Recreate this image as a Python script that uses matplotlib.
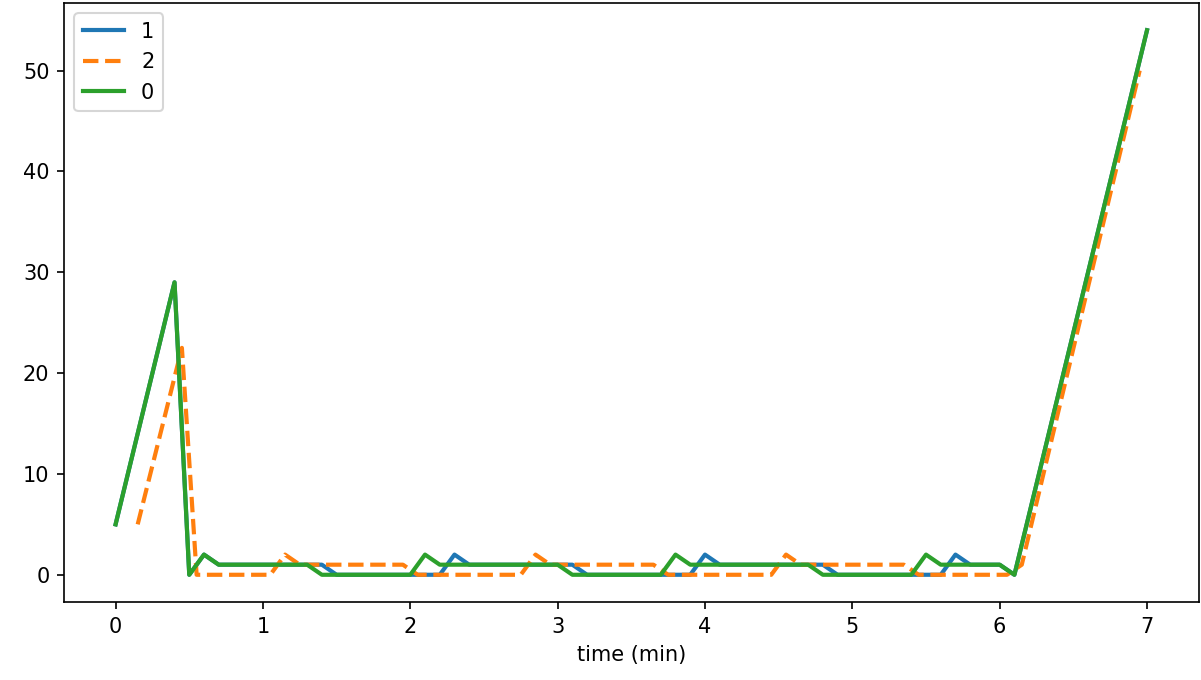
import matplotlib
matplotlib.use("Agg")
import matplotlib.pyplot as plt

# sample times (min)
time_a = [0.0, 0.4,
          0.5, 0.6, 0.7, 0.8, 0.9, 1.0, 1.1, 1.2, 1.3, 1.4,
          1.5, 1.6, 1.7, 1.8, 1.9, 2.0, 2.1, 2.2, 2.3, 2.4,
          2.5, 2.6, 2.7, 2.8, 2.9, 3.0, 3.1, 3.2, 3.3, 3.4,
          3.5, 3.6, 3.7, 3.8, 3.9, 4.0, 4.1, 4.2, 4.3, 4.4,
          4.5, 4.6, 4.7, 4.8, 4.9, 5.0, 5.1, 5.2, 5.3, 5.4,
          5.5, 5.6, 5.7, 5.8, 5.9, 6.0, 6.1,
          7.0]

time_b = [0.15, 0.45,
          0.55, 0.65, 0.75, 0.85, 0.95, 1.05, 1.15, 1.25, 1.35, 1.45,
          1.55, 1.65, 1.75, 1.85, 1.95, 2.05, 2.15, 2.25, 2.35, 2.45,
          2.55, 2.65, 2.75, 2.85, 2.95, 3.05, 3.15, 3.25, 3.35, 3.45,
          3.55, 3.65, 3.75, 3.85, 3.95, 4.05, 4.15, 4.25, 4.35, 4.45,
          4.55, 4.65, 4.75, 4.85, 4.95, 5.05, 5.15, 5.25, 5.35, 5.45,
          5.55, 5.65, 5.75, 5.85, 5.95, 6.05, 6.15,
          6.95]

series_1 = [5, 29,
            0, 2, 1, 1, 1, 1, 1, 1, 1, 1,
            0, 0, 0, 0, 0, 0, 0, 0, 2, 1,
            1, 1, 1, 1, 1, 1, 1, 0, 0, 0,
            0, 0, 0, 0, 0, 2, 1, 1, 1, 1,
            1, 1, 1, 1, 0, 0, 0, 0, 0, 0,
            0, 0, 2, 1, 1, 1, 0,
            54]

series_2 = [5, 22.5,
            0, 0, 0, 0, 0, 0, 2, 1, 1, 1,
            1, 1, 1, 1, 1, 0, 0, 0, 0, 0,
            0, 0, 0, 2, 1, 1, 1, 1, 1, 1,
            1, 1, 0, 0, 0, 0, 0, 0, 0, 0,
            2, 1, 1, 1, 1, 1, 1, 1, 1, 0,
            0, 0, 0, 0, 0, 0, 1,
            50]

series_0 = [5, 29,
            0, 2, 1, 1, 1, 1, 1, 1, 1, 0,
            0, 0, 0, 0, 0, 0, 2, 1, 1, 1,
            1, 1, 1, 1, 1, 1, 0, 0, 0, 0,
            0, 0, 0, 2, 1, 1, 1, 1, 1, 1,
            1, 1, 1, 0, 0, 0, 0, 0, 0, 0,
            2, 1, 1, 1, 1, 1, 0,
            54]


def main():
    fig, ax = plt.subplots(figsize=(1201 / 150, 680 / 150), dpi=150)
    fig.subplots_adjust(left=0.0533, right=0.998, bottom=0.1147, top=0.9956)

    ax.plot(time_a, series_1, color="C0", linewidth=2, label="1")
    ax.plot(time_b, series_2, color="C1", linewidth=2, linestyle="--", label="2")
    ax.plot(time_a, series_0, color="C2", linewidth=2, label="0")

    ax.set_xlabel("time (min)")
    ax.legend(loc="upper left")

    fig.savefig("out.png", dpi=150)
    plt.close(fig)


if __name__ == "__main__":
    main()
